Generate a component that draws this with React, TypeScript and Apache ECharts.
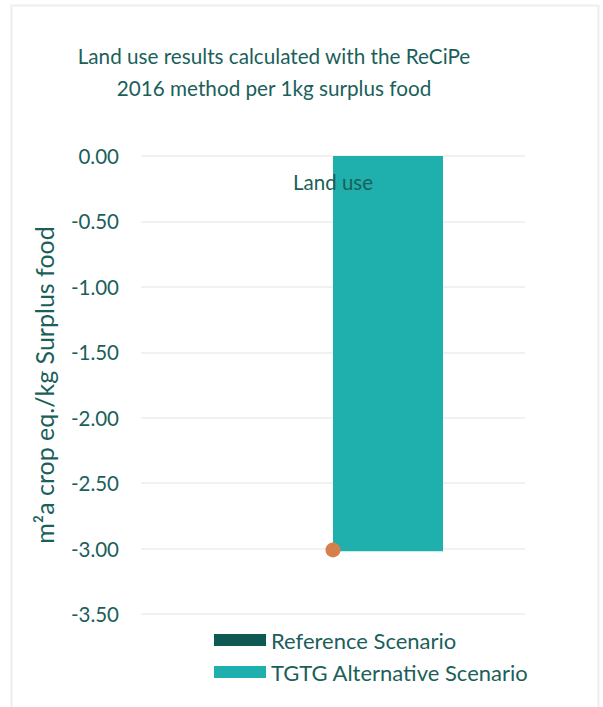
import React, { useEffect, useRef } from "react";
import * as echarts from "echarts";

const categories = ["Land use"];
const referenceScenario = [0];
const tgtgScenario = [-3.02];
const netResult = [-3.01];
const seriesNames = ["Reference Scenario", "TGTG Alternative Scenario"];

const TEXT = "#1b5f5b";
const FONT = "Lato";

export default function App() {
  const ref = useRef<HTMLDivElement>(null);
  useEffect(() => {
    if (!ref.current) return;
    const chart = echarts.init(ref.current, undefined, { renderer: "svg" });
    chart.setOption({
      animation: false,
      backgroundColor: "#ffffff",
      textStyle: { fontFamily: FONT },
      title: {
        text: "Land use results calculated with the ReCiPe\n2016 method per 1kg surplus food",
        left: 274,
        textAlign: "center",
        top: 40,
        padding: 0,
        textStyle: { color: TEXT, fontSize: 20.7, fontWeight: "normal", lineHeight: 32, fontFamily: FONT },
      },
      graphic: [
        {
          type: "rect",
          shape: { x: 11.5, y: 5.5, width: 587, height: 730 },
          style: { fill: "none", stroke: "#eeeeee", lineWidth: 2 },
          silent: true,
        },
      ],
      legend: {
        orient: "vertical",
        left: 214,
        top: 629,
        padding: 0,
        itemWidth: 52,
        itemHeight: 12,
        itemGap: 10,
        data: seriesNames,
        icon: "rect",
        textStyle: { color: TEXT, fontSize: 22, lineHeight: 22, fontFamily: FONT },
      },
      grid: { left: 141, right: 78, top: 156, bottom: 93, containLabel: false },
      xAxis: {
        type: "category",
        data: categories,
        position: "top",
        z: 10,
        axisLine: { show: false },
        axisTick: { show: false },
        axisLabel: { inside: true, margin: 15, color: TEXT, fontSize: 20.5, fontFamily: FONT },
      },
      yAxis: {
        type: "value",
        min: -3.5,
        max: 0,
        interval: 0.5,
        name: "m²a crop eq./kg Surplus food",
        nameLocation: "middle",
        nameGap: 85,
        nameTextStyle: { color: TEXT, fontSize: 25, fontFamily: FONT },
        axisLine: { show: false },
        axisTick: { show: false },
        axisLabel: {
          margin: 22,
          color: TEXT,
          fontSize: 20.5,
          fontFamily: FONT,
          formatter: (v: number) => v.toFixed(2),
        },
        splitLine: { lineStyle: { color: "#ececec", width: 1.5 } },
      },
      series: [
        {
          name: seriesNames[0],
          type: "bar",
          data: referenceScenario,
          barWidth: 110,
          barGap: "0%",
          itemStyle: { color: "#0f5954" },
        },
        {
          name: seriesNames[1],
          type: "bar",
          data: tgtgScenario,
          barWidth: 110,
          barGap: "0%",
          itemStyle: { color: "#1fafac" },
        },
        {
          name: "Net",
          type: "scatter",
          data: netResult,
          symbolSize: 15,
          z: 5,
          itemStyle: { color: "#d57f4c", opacity: 1 },
        },
      ],
    });
    return () => chart.dispose();
  }, []);
  return (
    <div
      ref={ref}
      style={{ position: "absolute", left: 0, top: 0, width: 603, height: 707, background: "#fff" }}
    />
  );
}
